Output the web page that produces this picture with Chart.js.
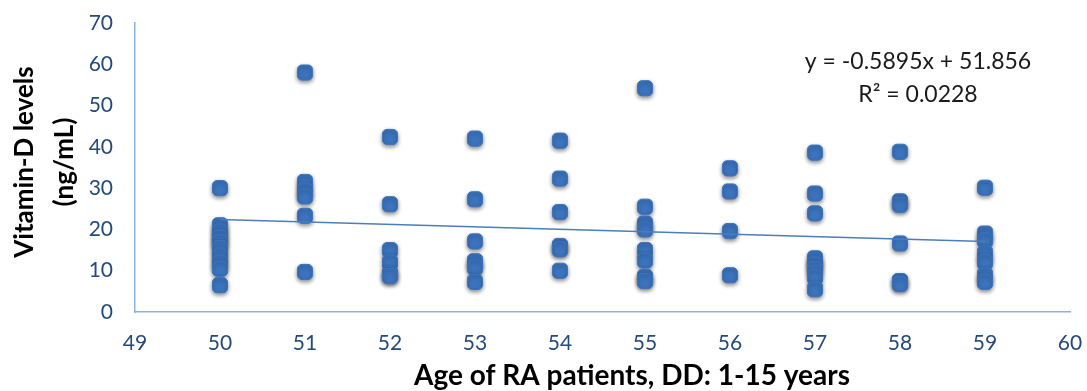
<!DOCTYPE html>
<html>
<head>
<meta charset="utf-8">
<script src="https://cdn.jsdelivr.net/npm/chart.js@4/dist/chart.umd.min.js"></script>
<style>
  html, body { margin: 0; padding: 0; background: #ffffff; }
  #wrap { width: 1087px; height: 391px; }
</style>
</head>
<body>
<div id="wrap"><canvas id="vitdChart" width="1087" height="391"></canvas></div>
<script>
// Ages on the x axis, and the vitamin-D readings seen at each age
const ages = [50, 51, 52, 53, 54, 55, 56, 57, 58, 59];
const vitaminDByAge = [
  [30, 21, 19.5, 18, 17, 15.5, 13.7, 12, 10.5, 6.5],
  [58, 31.5, 29.5, 28, 23.3, 9.7],
  [42.4, 26.1, 15, 12, 9.2, 8.7],
  [42, 27.3, 17.1, 12.3, 10.8, 7.3],
  [41.5, 32.3, 24.2, 16, 15.2, 10],
  [54.2, 25.5, 21.4, 20, 15, 12.5, 8.5, 7.5],
  [34.8, 29.2, 19.6, 8.9],
  [38.6, 28.7, 23.9, 13, 11.5, 10.5, 8.5, 5.5],
  [38.8, 26.8, 26, 16.6, 7.5, 6.8],
  [30.1, 19, 17.4, 14.2, 12.1, 8.9, 7.3],
];
// Linear trend as printed on the chart
const trendSlope = -0.5895;
const trendIntercept = 51.856;
const trendLabels = ["y = -0.5895x + 51.856", "R\u00b2 = 0.0228"];
const xTicks = [49, 50, 51, 52, 53, 54, 55, 56, 57, 58, 59, 60];
const xTitle = "Age of RA patients, DD: 1-15 years";
const yTitleLines = ["Vitamin-D levels", "(ng/mL)"];

// flatten the grouped readings into scatter points
const points = [];
ages.forEach((age, i) => {
  vitaminDByAge[i].forEach((v) => points.push({ x: age, y: v }));
});
// trend line runs from the first to the last age
const trendPoints = [ages[0], ages[ages.length - 1]].map((age) => ({
  x: age,
  y: trendSlope * age + trendIntercept,
}));

const tickColor = "#244a7c";
const axisColor = "#8db3e2";
const fontName = "Lato";

// soft drop shadow under the markers
const shadowPlugin = {
  id: "markerShadow",
  beforeDatasetDraw(chart, args) {
    if (args.index !== 1) return;
    const ctx = chart.ctx;
    ctx.save();
    ctx.shadowColor = "rgba(0,0,0,0.45)";
    ctx.shadowBlur = 4;
    ctx.shadowOffsetY = 2;
  },
  afterDatasetDraw(chart, args) {
    if (args.index !== 1) return;
    chart.ctx.restore();
  },
};

// axis titles and the equation text (placed like the original, off-centre)
const textPlugin = {
  id: "chartText",
  afterDraw(chart) {
    const ctx = chart.ctx;
    ctx.save();
    ctx.textAlign = "center";
    ctx.textBaseline = "middle";

    ctx.fillStyle = "#1a1a1a";
    ctx.font = "23px " + fontName;
    ctx.fillText(trendLabels[0], 918, 62);
    ctx.fillText(trendLabels[1], 918, 95);

    ctx.fillStyle = "#000";
    ctx.font = "bold 28px " + fontName;
    ctx.fillText(xTitle, 632, 376);

    ctx.font = "bold 26px " + fontName;
    ctx.translate(0, 162);
    ctx.rotate(-Math.PI / 2);
    ctx.fillText(yTitleLines[0], 0, 25);
    ctx.fillText(yTitleLines[1], 0, 65);
    ctx.restore();
  },
};

const ctx = document.getElementById("vitdChart").getContext("2d");
new Chart(ctx, {
  type: "scatter",
  data: {
    datasets: [
      {
        type: "line",
        data: trendPoints,
        borderColor: "#4a7ebb",
        borderWidth: 1.5,
        pointRadius: 0,
        fill: false,
      },
      {
        data: points,
        backgroundColor: "#3b73bd",
        borderColor: "#3b73bd",
        pointStyle: "rectRounded",
        pointRadius: 8.8,
        pointHoverRadius: 8.8,
      },
    ],
  },
  options: {
    responsive: false,
    animation: false,
    events: [],
    layout: { padding: { top: 23, right: 17, left: 0, bottom: 0 } },
    plugins: { legend: { display: false }, tooltip: { enabled: false } },
    scales: {
      x: {
        type: "linear",
        min: 49,
        max: 60,
        afterBuildTicks: (s) => { s.ticks = xTicks.map((v) => ({ value: v })); },
        afterFit: (s) => { s.height = 79; s.paddingLeft = 0; s.paddingRight = 0; },
        grid: { display: false, drawTicks: false },
        border: { color: axisColor, width: 1.5 },
        ticks: { color: tickColor, font: { family: fontName, size: 21 }, padding: 19 },
      },
      y: {
        min: 0,
        max: 70,
        afterFit: (s) => { s.width = 135; s.paddingTop = 0; s.paddingBottom = 0; },
        grid: { display: false, drawTicks: false },
        border: { color: axisColor, width: 1.5 },
        ticks: { stepSize: 10, color: tickColor, font: { family: fontName, size: 21 }, padding: 22 },
      },
    },
  },
  plugins: [shadowPlugin, textPlugin],
});
</script>
</body>
</html>
